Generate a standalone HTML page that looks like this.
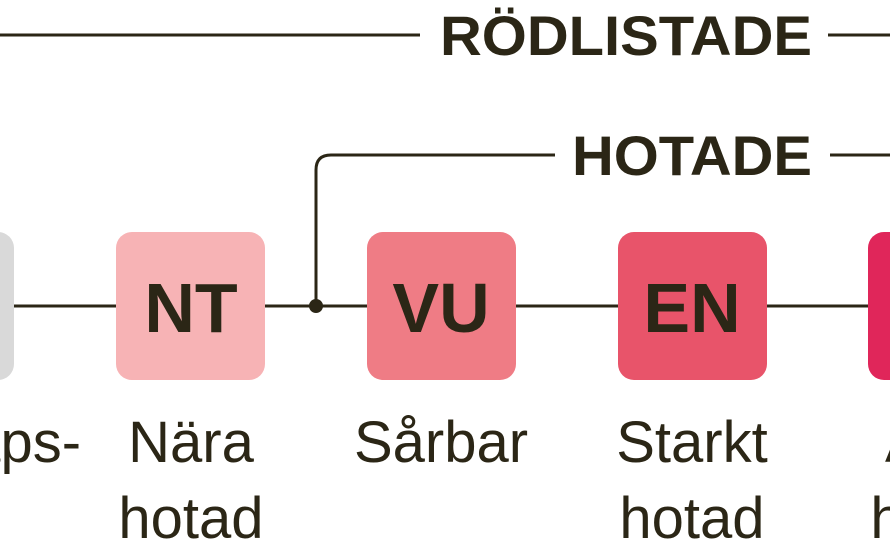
<!DOCTYPE html>
<html><head><meta charset="utf-8"><style>
body{margin:0;background:#fff;}
svg{display:block}
text{font-family:"Liberation Sans",sans-serif;fill:#2b2616}
</style></head><body>
<svg width="890" height="550" viewBox="0 0 890 550">
<g stroke="#2b2616" stroke-width="3" fill="none">
<line x1="0" y1="35" x2="420" y2="35"/>
<line x1="828" y1="35" x2="890" y2="35"/>
<path d="M316 306 V170 Q316 155 331 155 H555"/>
<line x1="830" y1="155" x2="890" y2="155"/>
<line x1="0" y1="306" x2="890" y2="306"/>
</g>
<circle cx="316" cy="306" r="7" fill="#2b2616"/>
<text x="440" y="55" font-size="56" font-weight="bold" textLength="372" lengthAdjust="spacingAndGlyphs">RÖDLISTADE</text>
<text x="572" y="175" font-size="56" font-weight="bold" textLength="240" lengthAdjust="spacingAndGlyphs">HOTADE</text>
<rect x="-135" y="232" width="149" height="148" rx="16" fill="#d9d9d9"/>
<rect x="116" y="232" width="149" height="148" rx="16" fill="#f7b3b5"/>
<rect x="367" y="232" width="149" height="148" rx="16" fill="#ef7c85"/>
<rect x="618" y="232" width="149" height="148" rx="16" fill="#e8546a"/>
<rect x="868" y="232" width="149" height="148" rx="16" fill="#e0265a"/>
<g font-size="70" font-weight="bold" text-anchor="middle">
<text x="191" y="332">NT</text>
<text x="441" y="332">VU</text>
<text x="692" y="332">EN</text>
</g>
<g font-size="58" text-anchor="middle">
<text x="-56" y="462">Kunskaps-</text>
<text x="-60" y="538">brist</text>
<text x="191" y="462">Nära</text>
<text x="191" y="538">hotad</text>
<text x="441" y="462">Sårbar</text>
<text x="692" y="462">Starkt</text>
<text x="692" y="538">hotad</text>
<text x="943" y="462">Akut</text>
<text x="943" y="538">hotad</text>
</g>
</svg>
</body></html>
